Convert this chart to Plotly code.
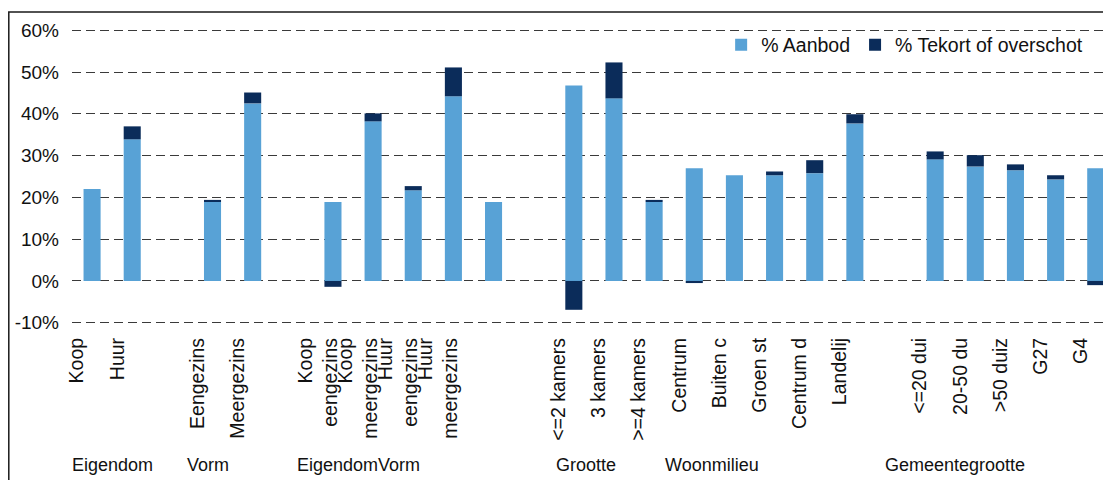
import plotly.graph_objects as go

# ---- data ----
labels = ["Koop", "Huur", "",
          "Eengezins", "Meergezins", "",
          "Koop<br>eengezins", "Koop<br>meergezins", "Huur<br>eengezins", "Huur<br>meergezins", "", "",
          "<=2 kamers", "3 kamers", ">=4 kamers",
          "Centrum", "Buiten c", "Groen st", "Centrum d", "Landelij", "",
          "<=20 dui", "20-50 du", ">50 duiz", "G27", "G4"]
aanbod = [22.0, 33.9, None,
          18.9, 42.5, None,
          18.9, 38.2, 21.7, 44.2, 18.9, None,
          46.8, 43.7, 18.9,
          27.0, 25.3, 25.3, 25.8, 37.7, None,
          29.1, 27.4, 26.5, 24.3, 27.0]
tekort = [0.0, 3.1, None,
          0.5, 2.6, None,
          -1.4, 1.9, 1.0, 6.9, 0.0, None,
          -6.9, 8.6, 0.5,
          -0.5, 0.0, 0.9, 3.1, 2.2, None,
          1.9, 2.7, 1.4, 1.0, -1.0]
groups = ["Eigendom", "Vorm", "EigendomVorm", "Grootte", "Woonmilieu", "Gemeentegrootte"]
y_ticks = [-10, 0, 10, 20, 30, 40, 50, 60]

# ---- layout / style ----
group_label_pos = [0.5, 2.89, 6.63, 12.31, 15.45, 21.5]
FONT = "Liberation Sans, Arial, sans-serif"
LIGHT = "#58A2D6"
DARK = "#0B2C5A"
W, H = 1103, 472          # page body has an 8px margin
L, T, PW, PH = 64, 21, 1039, 295
Y_RANGE = [-10.3, 60.3]

xs = list(range(len(labels)))

fig = go.Figure()
fig.add_trace(go.Bar(x=xs, y=aanbod, name="% Aanbod", marker_color=LIGHT, marker_line_width=0))
fig.add_trace(go.Bar(x=xs, y=tekort, name="% Tekort of overschot", marker_color=DARK, marker_line_width=0))

for g, p in zip(groups, group_label_pos):
    fig.add_annotation(x=p, y=-(457 - T - PH) / PH, xref="x", yref="paper", text=g, showarrow=False,
                       xanchor="center", yanchor="middle",
                       font=dict(family=FONT, size=18, color="#111"))

# outer frame
fig.add_shape(type="rect", xref="paper", yref="paper",
              x0=(0.8 - L) / PW, x1=(W + 20 - L) / PW,
              y0=-(H + 20 - T - PH) / PH, y1=(T + PH - 4) / PH,
              line=dict(color="#1a1a1a", width=1.5), layer="below")

fig.update_layout(
    width=W, height=H,
    margin=dict(l=L, r=W - L - PW, t=T, b=H - T - PH),
    barmode="relative", bargap=0.575,
    plot_bgcolor="white", paper_bgcolor="white",
    font=dict(family=FONT, size=18, color="#111"),
    showlegend=True,
    legend=dict(orientation="h", x=0.978, xanchor="right", y=(T + PH - 37) / PH, yanchor="middle",
                traceorder="normal", bgcolor="rgba(0,0,0,0)",
                font=dict(family=FONT, size=19.5, color="#111"),
                itemwidth=30),
)
fig.update_xaxes(range=[-0.5, 25.38], tickmode="array", tickvals=xs, ticktext=labels,
                 tickangle=-90, showgrid=False, zeroline=False, showline=False,
                 ticks="", ticklabelshift=-15, ticklabelstandoff=9,
                 tickfont=dict(family=FONT, size=19.5, color="#111"))
fig.update_yaxes(range=Y_RANGE, tickmode="array", tickvals=y_ticks,
                 ticktext=[f"{v}%" for v in y_ticks],
                 showgrid=True, gridcolor="#3a3a3a", gridwidth=1, griddash="9px,5px",
                 zeroline=False, showline=False, ticks="", ticklabelstandoff=12,
                 tickfont=dict(family=FONT, size=19, color="#111"))

fig.write_html("out.html")
